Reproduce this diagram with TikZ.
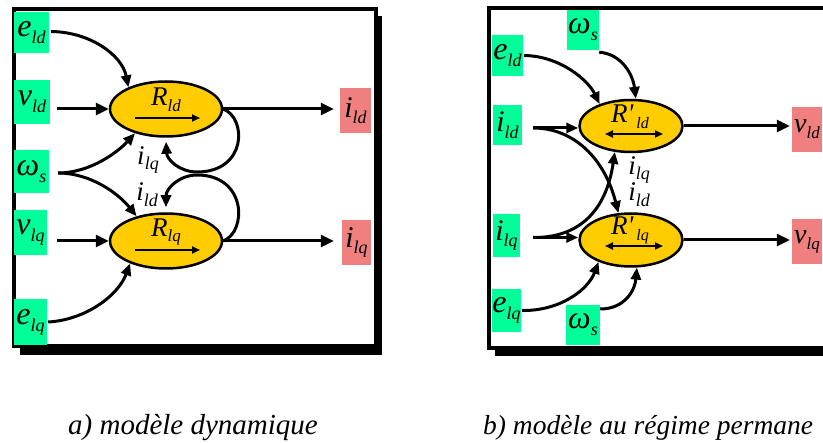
\documentclass[tikz,border=0pt]{standalone}
\usepackage{fontspec}
\usetikzlibrary{arrows.meta,shapes.geometric}
\newfontfamily\tnr{Liberation Serif}
\definecolor{gfill}{HTML}{00FF99}
\definecolor{pfill}{HTML}{F08080}
\definecolor{efill}{HTML}{FFCC00}
\newcommand\lbl[4]{{\tnr\itshape\fontsize{#3pt}{#3pt}\selectfont #1\raisebox{-0.22em}{\fontsize{#4pt}{#4pt}\selectfont #2}}}
\tikzset{
  gbox/.style={fill=gfill, inner sep=0pt, draw=none},
  pbox/.style={fill=pfill, inner sep=0pt, draw=none},
  ell/.style={ellipse, draw=black, line width=2.5pt, fill=efill, inner sep=0pt},
  arr/.style={line width=3pt, -{Triangle[length=13pt,width=12pt]}},
  arrc/.style={line width=3pt, -{Triangle[length=12pt,width=10pt]}},
  inarr/.style={line width=1.8pt, -{Triangle[length=8pt,width=7pt]}},
  inarrd/.style={line width=1.8pt, {Triangle[length=8pt,width=7pt]}-{Triangle[length=8pt,width=7pt]}},
  framebox/.style={line width=4pt, draw=black, fill=white},
  captext/.style={anchor=base west, inner sep=0pt, font=\tnr\itshape\fontsize{29pt}{29pt}\selectfont}
}
\begin{document}
\begin{tikzpicture}[x=1pt,y=-1pt]
\useasboundingbox (0,0) rectangle (823,443);
\clip (0,0) rectangle (823,443);
\fill[white] (0,0) rectangle (823,443);

% ---------------- left panel ----------------
\fill[black] (20,16) rectangle (382,355);
\draw[framebox] (14,9) rectangle (376,346);

\node[gbox, minimum width=35, minimum height=41] (eld) at (31.5,32.5) {\lbl{e}{ld}{32}{18}};
\node[gbox, minimum width=36, minimum height=44] (vld) at (32,102) {\lbl{v}{ld}{32}{18}};
\node[gbox, minimum width=35, minimum height=43] (ws) at (31.5,171.5) {\lbl{ω}{s}{32}{18}};
\node[gbox, minimum width=33, minimum height=45] (vlq) at (30.5,232.5) {\lbl{v}{lq}{32}{18}};
\node[gbox, minimum width=33, minimum height=46] (elq) at (30.5,322) {\lbl{e}{lq}{32}{18}};
\node[pbox, minimum width=31, minimum height=45] (ild) at (355.5,110.5) {\lbl{i}{ld}{30}{18}};
\node[pbox, minimum width=29, minimum height=45] (ilq) at (356.5,242.5) {\lbl{i}{lq}{30}{18}};

\node[ell, minimum width=112, minimum height=55] (Rld) at (166,109) {};
\node[ell, minimum width=112, minimum height=55] (Rlq) at (166,241) {};
\node (RldT) at (166,100) {\lbl{R}{ld}{27}{17}};
\node (RlqT) at (166,232) {\lbl{R}{lq}{27}{17}};
\draw[inarr] ([xshift=-31pt,yshift=-9pt]Rld.center) -- ([xshift=34pt,yshift=-9pt]Rld.center);
\draw[inarr] ([xshift=-31pt,yshift=-9pt]Rlq.center) -- ([xshift=34pt,yshift=-9pt]Rlq.center);

\node (labA) at (148,160) {\lbl{i}{lq}{27}{18}};
\node (labB) at (147,195) {\lbl{i}{ld}{27}{18}};

\coordinate (wsS) at ([xshift=9pt,yshift=-1.5pt]ws.east);
\coordinate (eldS) at ([xshift=2pt,yshift=1pt]eld.east);
\coordinate (elqS) at ([xshift=1pt]elq.east);

\draw[arrc] (eldS) .. controls (90,32) and (122,55) .. (Rld.150);
\draw[arr, shorten <=7pt] (vld.east |- Rld.west) -- (Rld.west);
\draw[arrc] (wsS) .. controls (90,173) and (118,152) .. (Rld.218);
\draw[arrc] (wsS) .. controls (90,173) and (118,193) .. (Rlq.140);
\draw[arr, shorten <=10pt] (vlq.east |- Rlq.west) -- (Rlq.west);
\draw[arrc] (elqS) .. controls (85,320) and (118,296) .. (Rlq.212);

\draw[arr, shorten >=6pt] (Rld.east) -- (Rld.east -| ild.west);
\draw[arr, shorten >=8pt] (Rlq.east) -- (Rlq.east -| ilq.west);

\draw[arrc] (Rld.east) .. controls (247,118) and (247,172) .. (197,172)
  .. controls (180,172) and (167,160) .. ([yshift=-4pt]Rld.south);
\draw[arrc] (Rlq.east) .. controls (247,232) and (247,175) .. (197,175)
  .. controls (180,175) and (166,188) .. ([yshift=5pt]Rlq.north);

% ---------------- right panel ----------------
\fill[black] (495,15) rectangle (850,356);
\draw[framebox] (489,8) rectangle (840,348);

\node[gbox, minimum width=32, minimum height=40] (ws1) at (583,30) {\lbl{ω}{s}{32}{18}};
\node[gbox, minimum width=31, minimum height=41] (eld2) at (507.5,55.5) {\lbl{e}{ld}{32}{18}};
\node[gbox, minimum width=29, minimum height=40] (ild2) at (507.5,125) {\lbl{i}{ld}{30}{18}};
\node[gbox, minimum width=27, minimum height=43] (ilq2) at (506.5,235.5) {\lbl{i}{lq}{30}{18}};
\node[gbox, minimum width=29, minimum height=43] (elq2) at (506.5,310.5) {\lbl{e}{lq}{32}{18}};
\node[gbox, minimum width=34, minimum height=40] (ws2) at (583,325) {\lbl{ω}{s}{32}{18}};
\node[pbox, minimum width=30, minimum height=45] (vldO) at (807,129.5) {\lbl{v}{ld}{28}{17}};
\node[pbox, minimum width=30, minimum height=45] (vlqO) at (807,241.5) {\lbl{v}{lq}{28}{17}};

\node[ell, minimum width=103, minimum height=52] (Pld) at (631,126) {};
\node[ell, minimum width=103, minimum height=53] (Plq) at (631,240) {};
\node (PldT) at (630,117) {\lbl{R'\kern3pt}{ld}{27}{16}};
\node (PlqT) at (630,230) {\lbl{R'\kern3pt}{lq}{27}{16}};
\draw[inarrd] ([xshift=-26pt,yshift=-8pt]Pld.center) -- ([xshift=32pt,yshift=-8pt]Pld.center);
\draw[inarrd] ([xshift=-26pt,yshift=-6pt]Plq.center) -- ([xshift=32pt,yshift=-6pt]Plq.center);

\node (labC) at (639,170) {\lbl{i}{lq}{27}{18}};
\node (labD) at (639,195) {\lbl{i}{ld}{27}{18}};

\coordinate (ws1S) at ([yshift=-2pt]ws1.south east);
\coordinate (eld2S) at ([xshift=1pt]eld2.east);
\coordinate (ild2S) at ([xshift=11pt,yshift=-3pt]ild2.east);
\coordinate (ilq2S) at ([xshift=13pt,yshift=-2pt]ilq2.east);
\coordinate (elq2S) at ([xshift=1pt]elq2.east);
\coordinate (ws2S) at ([yshift=16pt]ws2.east);

\draw[arrc] (ws1S) .. controls (622,54) and (633,75) .. (Pld.80);
\draw[arrc] (eld2S) .. controls (560,56) and (588,80) .. (Pld.145);
\draw[arrc] (ild2S) -- (Pld.west |- ild2S);
\draw[arrc] (ild2S) .. controls (575,128) and (605,160) .. (Plq.115);
\draw[arrc] (ilq2S) -- (Plq.west |- ilq2S);
\draw[arrc] (ilq2S) .. controls (578,238) and (606,212) .. (Pld.238);
\draw[arrc] (elq2S) .. controls (560,311) and (588,290) .. (Plq.214);
\draw[arrc] (ws2S) .. controls (625,309) and (635,290) .. (Plq.282);

\draw[arr, shorten >=2pt] (Pld.east) -- (Pld.east -| vldO.west);
\draw[arr, shorten >=2pt] (Plq.east) -- (Plq.east -| vlqO.west);

% ---------------- captions ----------------
\node[captext] (capA) at (68,435) {a) modèle dynamique};
\node[captext, font=\tnr\itshape\fontsize{27.5pt}{27.5pt}\selectfont] (capB) at (483,435) {b) modèle au régime permane};
\end{tikzpicture}
\end{document}
